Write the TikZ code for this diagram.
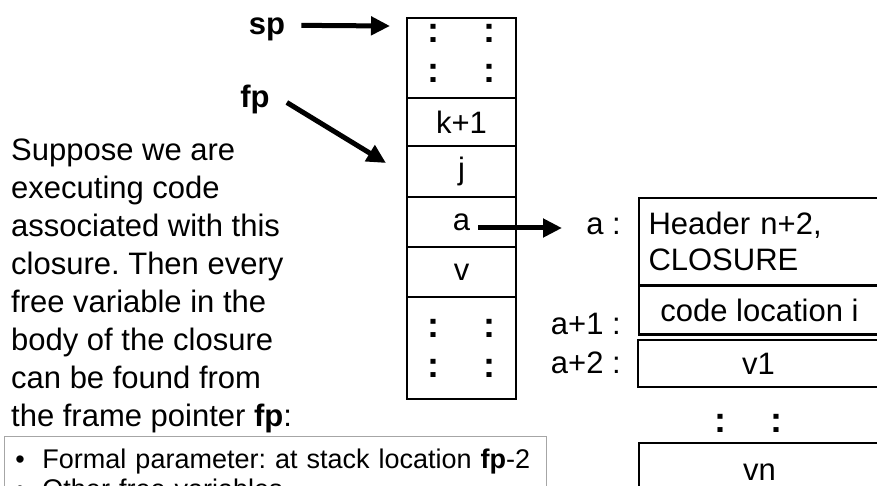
\documentclass[tikz,border=0pt]{standalone}
\usepackage{fontspec}
\setmainfont{Liberation Sans}
\usetikzlibrary{arrows.meta}
\frenchspacing

\newcommand{\stackdots}{{\fontsize{36}{40}\selectfont\bfseries :\hspace{44pt}:}}
\newcommand{\twodots}{\stackdots\\\stackdots}
\newcommand{\twodotsup}{\raisebox{10pt}{\stackdots}\\\raisebox{10pt}{\stackdots}}
\newcommand{\bul}{\makebox[31pt][l]{\hspace{4pt}\textbullet}}

\begin{document}
\begin{tikzpicture}[x=1pt,y=-1pt,
  cell/.style={draw,line width=2.5pt,minimum width=109pt,inner sep=0pt,align=center,font=\fontsize{31}{40}\selectfont},
  heapcell/.style={draw,line width=2.5pt,minimum width=241pt,inner sep=0pt,font=\fontsize{31}{36}\selectfont},
  word/.style={inner sep=0pt,font=\fontsize{31}{38}\selectfont},
  ptr/.style={line width=5pt,-{Triangle[length=19pt,width=18pt]}}]
\useasboundingbox (0,0) rectangle (877,486);
\clip (0,0) rectangle (877,486);

% the stack
\foreach \nm/\yc/\hh/\txt in {top/58/80/\twodotsup,kk/122/48/k+1,jj/171.5/51/j,aa/222/50/a,vv/272/50/v,bot/348/102/\twodots}
  {\node[cell,minimum height=\hh pt] (\nm) at (461.5,\yc) {\txt};}

% the text on the left
\foreach \phrase [count=\i from 0] in {Suppose we are,executing code,associated with this,closure. Then every,free variable in the,body of the closure,can be found from,the frame pointer \textbf{fp}:}
  {\node[word,anchor=base west] (txt\i) at (11,{161+37.9*\i}) {\phrase};}

\node[word,anchor=base,font=\fontsize{31}{38}\selectfont\bfseries] (sp) at (267,35) {sp};
\node[word,anchor=base,font=\fontsize{31}{38}\selectfont\bfseries] (fp) at (255,108) {fp};

% the closure on the heap
\node[heapcell,minimum height=87pt,text width=222pt,align=left] (hdr) at (759.5,241.5) {Header n+2,\\CLOSURE};
\node[heapcell,minimum height=49pt] (code) at (759.5,310) {code location i};
\node[heapcell,minimum height=47pt] (v1) at (758.5,363.5) {v1};
\node[word] (hdots) at (748.5,423) {\stackdots};
\node[heapcell,minimum height=58pt] (vn) at (759.5,472) {vn};

\node[word,anchor=base east] (la) at (621,235) {a :};
\node[word,anchor=base east] (la1) at (621,334) {a+1 :};
\node[word,anchor=base east] (la2) at (621,373) {a+2 :};

% pointers
\coordinate (sptip) at (390,26);
\coordinate (fptip) at (386,163);
\coordinate (atip) at (562,228);
\draw[ptr] ([xshift=16pt,yshift=4.5pt]sp.east) -- (sptip);
\draw[ptr] ([xshift=17pt,yshift=-2.5pt]fp.east) -- (fptip);
\draw[ptr] ([xshift=16.5pt,yshift=-6pt]aa.center) -- (atip);

\node[draw=gray!70,line width=1pt,anchor=north west,minimum width=542pt,text width=528pt,inner xsep=7pt,inner ysep=12pt,align=left,font=\fontsize{27}{30}\selectfont] (notes) at (4,436)
  {\bul Formal parameter: at stack location \textbf{fp}-2\\\bul Other free variables};
\end{tikzpicture}
\end{document}
